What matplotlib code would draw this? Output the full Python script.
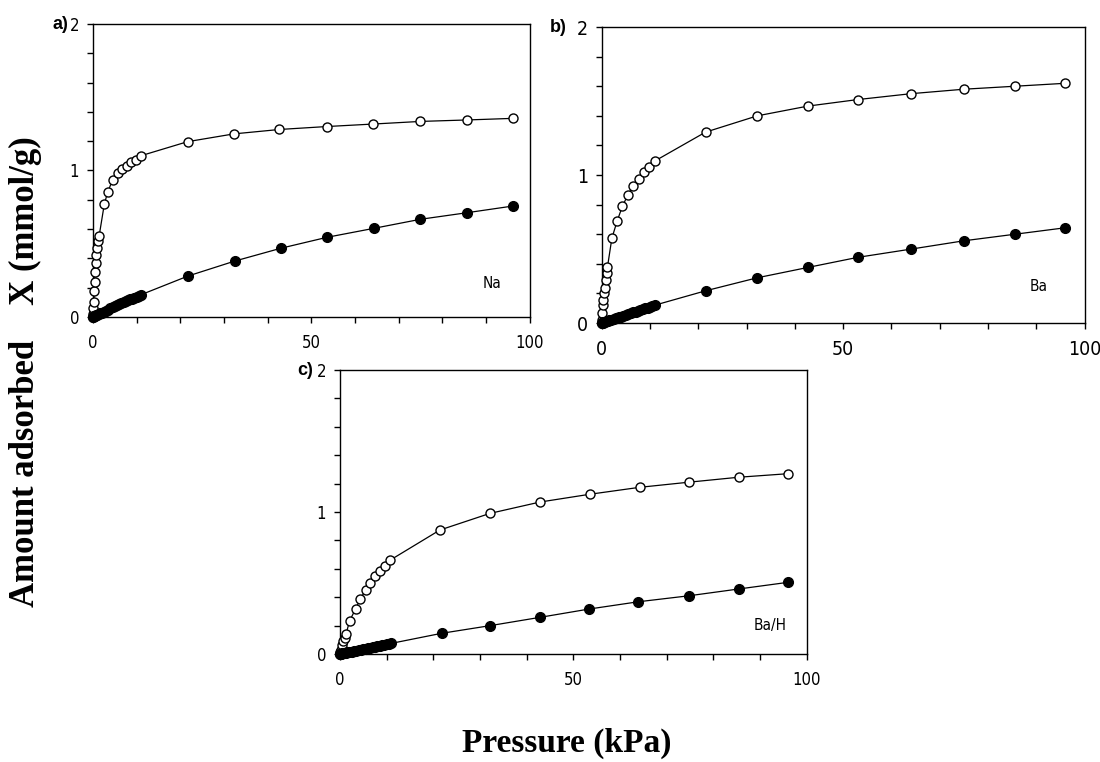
import matplotlib
matplotlib.use("Agg")
import matplotlib.pyplot as plt
from matplotlib.ticker import MultipleLocator

# --- data (pressure in kPa, amount in mmol/g) ---
# a) Na : open circles
na_open_p = [0.05, 0.1, 0.2, 0.3, 0.4, 0.5, 0.6, 0.8, 1.0, 1.2, 1.4,
             2.6, 3.4, 4.5, 5.8, 6.7, 7.7, 8.7, 9.8, 10.9,
             21.7, 32.3, 42.7, 53.5, 64.1, 75.0, 85.7, 96.3]
na_open_x = [0.02, 0.06, 0.10, 0.18, 0.24, 0.31, 0.37, 0.42, 0.47, 0.52, 0.55,
             0.77, 0.855, 0.935, 0.98, 1.01, 1.03, 1.055, 1.07, 1.10,
             1.197, 1.25, 1.28, 1.30, 1.317, 1.335, 1.345, 1.356]
# a) Na : filled circles
na_fill_p = [0.05, 0.1, 0.2, 0.3, 0.5, 0.7, 1.0, 1.3, 1.6, 2.0, 2.5, 3.0, 3.5, 4.0,
             4.5, 5.0, 5.5, 6.0, 6.5, 7.0, 7.5, 8.0, 8.5, 9.0, 9.5, 10.0, 10.5, 11.0,
             21.8, 32.5, 43.0, 53.6, 64.3, 75.0, 85.7, 96.3]
na_fill_x = [0.002, 0.003, 0.005, 0.007, 0.010, 0.013, 0.017, 0.021, 0.025, 0.030,
             0.037, 0.044, 0.051, 0.058, 0.065, 0.072, 0.079, 0.086, 0.093, 0.100,
             0.106, 0.113, 0.120, 0.126, 0.133, 0.139, 0.146, 0.152,
             0.28, 0.382, 0.469, 0.544, 0.605, 0.667, 0.712, 0.758]

# b) Ba
ba_open_p = [0.05, 0.1, 0.2, 0.3, 0.4, 0.6, 0.8, 1.0, 1.2,
             2.1, 3.2, 4.3, 5.4, 6.5, 7.7, 8.7, 9.7, 11.0,
             21.5, 32.2, 42.7, 53.0, 64.1, 75.0, 85.5, 96.0]
ba_open_x = [0.02, 0.065, 0.12, 0.155, 0.20, 0.24, 0.29, 0.336, 0.38,
             0.572, 0.69, 0.79, 0.865, 0.925, 0.973, 1.02, 1.056, 1.095,
             1.29, 1.40, 1.466, 1.51, 1.55, 1.58, 1.60, 1.62]
ba_fill_p = [0.05, 0.1, 0.2, 0.3, 0.5, 0.7, 1.0, 1.3, 1.6, 2.0, 2.5, 3.0, 3.5, 4.0,
             4.5, 5.0, 5.5, 6.0, 6.5, 7.0, 7.5, 8.0, 8.5, 9.0, 9.5, 10.0, 10.5, 11.0,
             21.5, 32.2, 42.7, 53.0, 64.1, 75.0, 85.5, 96.0]
ba_fill_x = [0.001, 0.002, 0.003, 0.005, 0.007, 0.009, 0.012, 0.015, 0.018, 0.022,
             0.028, 0.033, 0.039, 0.044, 0.050, 0.055, 0.061, 0.066, 0.072, 0.077,
             0.083, 0.088, 0.094, 0.099, 0.105, 0.110, 0.116, 0.121,
             0.218, 0.306, 0.376, 0.444, 0.50, 0.556, 0.60, 0.644]

# c) Ba/H
bah_open_p = [0.1, 0.2, 0.4, 0.7, 1.0, 1.3, 2.1, 3.4, 4.4, 5.5, 6.4, 7.6, 8.6, 9.6, 10.7,
              21.4, 32.1, 42.8, 53.5, 64.2, 74.7, 85.4, 96.0]
bah_open_x = [0.015, 0.03, 0.063, 0.09, 0.11, 0.14, 0.235, 0.32, 0.39, 0.45, 0.50,
              0.55, 0.587, 0.62, 0.66,
              0.873, 0.99, 1.07, 1.125, 1.174, 1.21, 1.245, 1.27]
bah_fill_p = [0.05, 0.1, 0.2, 0.3, 0.5, 0.7, 1.0, 1.3, 1.6, 2.0, 2.5, 3.0, 3.5, 4.0,
              4.5, 5.0, 5.5, 6.0, 6.5, 7.0, 7.5, 8.0, 8.5, 9.0, 9.5, 10.0, 10.5, 11.0,
              21.8, 32.2, 42.8, 53.4, 63.9, 74.7, 85.4, 96.0]
bah_fill_x = [0.001, 0.001, 0.002, 0.002, 0.004, 0.005, 0.007, 0.009, 0.011, 0.014,
              0.017, 0.021, 0.024, 0.027, 0.031, 0.034, 0.038, 0.041, 0.044, 0.048,
              0.051, 0.055, 0.058, 0.062, 0.065, 0.068, 0.072, 0.075,
              0.146, 0.20, 0.258, 0.317, 0.368, 0.41, 0.458, 0.505]

panel_tags = ["a)", "b)", "c)"]
sample_names = ["Na", "Ba", "Ba/H"]

fig = plt.figure(figsize=(11, 7.62), dpi=100)

# axes boxes in figure fractions
boxes = [
    [0.0845, 0.584, 0.397, 0.3845],
    [0.547, 0.576, 0.439, 0.3885],
    [0.309, 0.1417, 0.4245, 0.3727],
]
tick_fs = [12, 14, 12]
name_pos = [(0.913, 0.116), (0.905, 0.122), (0.921, 0.102)]
tag_x = [-0.057, -0.072, -0.058]

series = [
    (na_open_p, na_open_x, na_fill_p, na_fill_x),
    (ba_open_p, ba_open_x, ba_fill_p, ba_fill_x),
    (bah_open_p, bah_open_x, bah_fill_p, bah_fill_x),
]

for i, (op, ox, fp, fx) in enumerate(series):
    ax = fig.add_axes(boxes[i])
    ax.plot(op, ox, "-o", color="black", lw=0.9, ms=6.5,
            mfc="white", mec="black", mew=1.0, clip_on=False, zorder=3)
    ax.plot(fp, fx, "-o", color="black", lw=0.9, ms=7,
            mfc="black", mec="black", clip_on=False, zorder=4)

    ax.set_xlim(0, 100)
    ax.set_ylim(0, 2)
    ax.xaxis.set_major_locator(MultipleLocator(50))
    ax.xaxis.set_minor_locator(MultipleLocator(10))
    ax.yaxis.set_major_locator(MultipleLocator(1))
    ax.yaxis.set_minor_locator(MultipleLocator(0.2))
    ax.tick_params(which="both", direction="out", length=4, width=1,
                   top=False, right=False)
    ax.tick_params(axis="x", which="major", pad=8)
    ax.tick_params(axis="y", which="major", pad=6)
    for lab in ax.get_xticklabels() + ax.get_yticklabels():
        lab.set_family("DejaVu Sans")
        lab.set_stretch("condensed")
        lab.set_fontsize(tick_fs[i])
    for sp in ax.spines.values():
        sp.set_linewidth(1.0)

    ax.text(name_pos[i][0], name_pos[i][1], sample_names[i],
            transform=ax.transAxes, ha="center", va="center",
            fontsize=11, family="DejaVu Sans", stretch="condensed")
    ax.text(tag_x[i], 1.0, panel_tags[i], transform=ax.transAxes,
            ha="right", va="center", fontsize=13, fontweight="bold",
            family=["Liberation Sans", "DejaVu Sans"])

fig.text(0.023, 0.512, "Amount adsorbed    X (mmol/g)", rotation=90,
         ha="center", va="center", fontsize=25, fontweight="bold",
         family=["Liberation Serif", "DejaVu Serif"])
fig.text(0.515, 0.025, "Pressure (kPa)", ha="center", va="center",
         fontsize=24, fontweight="bold",
         family=["Liberation Serif", "DejaVu Serif"])

fig.savefig("out.png", dpi=100)
